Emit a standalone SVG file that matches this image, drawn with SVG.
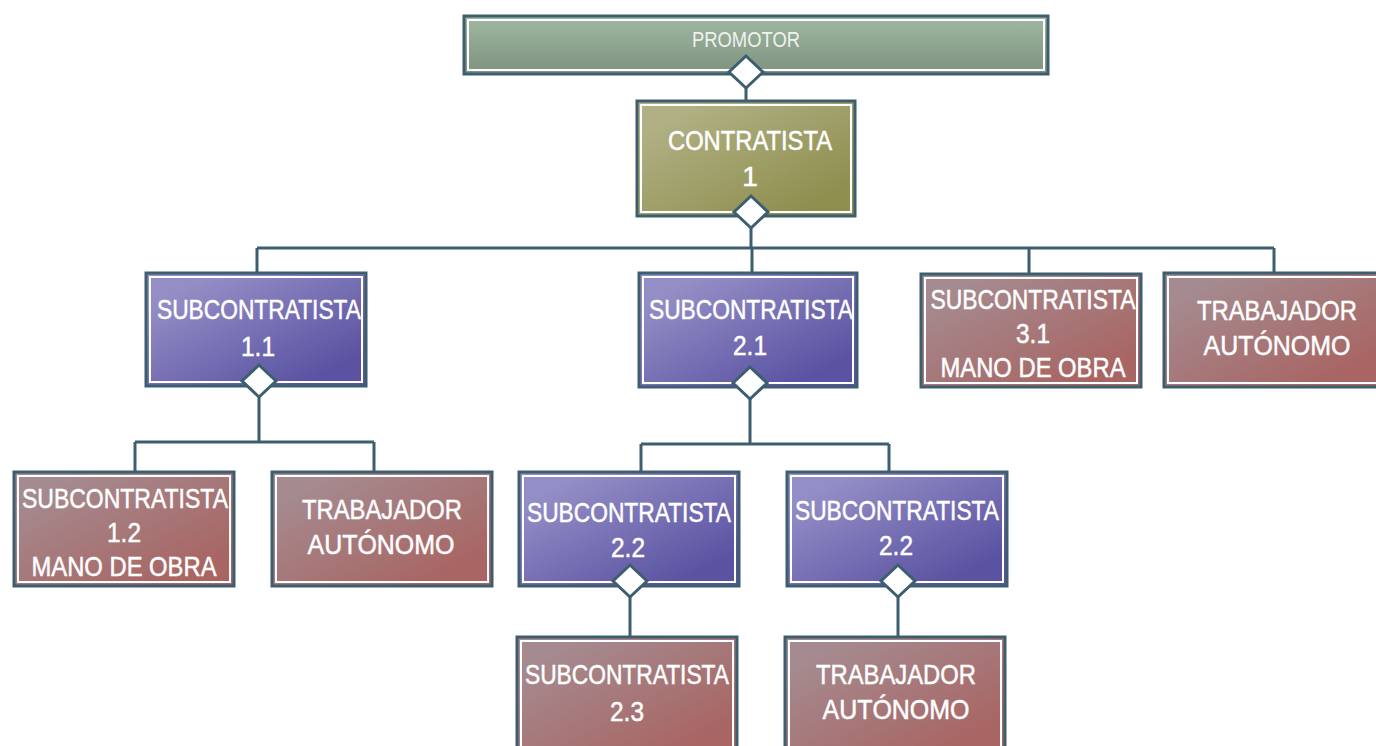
<svg xmlns="http://www.w3.org/2000/svg" width="1376" height="746" viewBox="0 0 1376 746">
<defs>
<linearGradient id="gBlue" x1="0" y1="0" x2="1" y2="1"><stop offset="0.15" stop-color="#948ec6"/><stop offset="0.85" stop-color="#5a53a2"/></linearGradient>
<linearGradient id="gRed" x1="0" y1="0" x2="1" y2="1"><stop offset="0.15" stop-color="#a58a8f"/><stop offset="0.85" stop-color="#a86563"/></linearGradient>
<linearGradient id="gOlive" x1="0" y1="0" x2="1" y2="1"><stop offset="0.15" stop-color="#b0b084"/><stop offset="0.85" stop-color="#8f8f50"/></linearGradient>
<linearGradient id="gGreen" x1="0" y1="0" x2="0" y2="1"><stop offset="0" stop-color="#a0b8a1"/><stop offset="1" stop-color="#7e927f"/></linearGradient>
</defs>
<style>
.box{stroke:#3d5e6e;stroke-width:3}
.inner{fill:none;stroke:#ffffff;stroke-width:2}
.t{font-family:"Liberation Sans",Arial,sans-serif;font-size:28px;fill:#ffffff;stroke:#ffffff;stroke-width:0.5;text-anchor:middle}
.tp{font-family:"Liberation Sans",Arial,sans-serif;font-size:22px;fill:#eef2ee;text-anchor:middle}
.ln{fill:none;stroke:#3d5e6e;stroke-width:3}
.dia{fill:#ffffff;stroke:#3d5e6e;stroke-width:3}
</style>
<rect width="1376" height="746" fill="#ffffff"/>

<g id="connectors">
<path class="ln" d="M746 88V100"/>
<path class="ln" d="M751 228V248M257 248H1274M257 248V272M752 248V272M1029 248V275M1274 248V272"/>
<path class="ln" d="M259 397V442M135 442H374M135 442V471M374 442V471"/>
<path class="ln" d="M750 399V444M641 444H889M641 444V471M889 444V471"/>
<path class="ln" d="M630 597V636"/>
<path class="ln" d="M898 597V636"/>
</g>

<g id="promotor">
<rect class="box" x="464" y="16" width="584" height="58" fill="url(#gGreen)"/>
<rect class="inner" x="468" y="20" width="576" height="50"/>
<text class="tp" x="746" y="47" textLength="108" lengthAdjust="spacingAndGlyphs">PROMOTOR</text>
</g>

<g id="contratista1">
<rect class="box" x="637" y="101" width="218" height="115" fill="url(#gOlive)"/>
<rect class="inner" x="641" y="105" width="210" height="107"/>
<text class="t" x="750" y="150" textLength="164" lengthAdjust="spacingAndGlyphs">CONTRATISTA</text>
<text class="t" x="750" y="186">1</text>
</g>

<g id="sub11">
<rect class="box" x="146" y="273" width="220" height="113" fill="url(#gBlue)"/>
<rect class="inner" x="150" y="277" width="212" height="105"/>
<text class="t" x="259" y="319" textLength="204" lengthAdjust="spacingAndGlyphs">SUBCONTRATISTA</text>
<text class="t" x="258" y="356" textLength="34" lengthAdjust="spacingAndGlyphs">1.1</text>
</g>

<g id="sub21">
<rect class="box" x="639" y="273" width="218" height="114" fill="url(#gBlue)"/>
<rect class="inner" x="643" y="277" width="210" height="106"/>
<text class="t" x="751" y="319" textLength="204" lengthAdjust="spacingAndGlyphs">SUBCONTRATISTA</text>
<text class="t" x="750" y="355" textLength="34" lengthAdjust="spacingAndGlyphs">2.1</text>
</g>

<g id="sub31">
<rect class="box" x="921" y="274" width="220" height="113" fill="url(#gRed)"/>
<rect class="inner" x="925" y="278" width="212" height="105"/>
<text class="t" x="1033" y="309" textLength="205" lengthAdjust="spacingAndGlyphs">SUBCONTRATISTA</text>
<text class="t" x="1033" y="343" textLength="34" lengthAdjust="spacingAndGlyphs">3.1</text>
<text class="t" x="1033" y="377" textLength="185" lengthAdjust="spacingAndGlyphs">MANO DE OBRA</text>
</g>

<g id="trabajador2">
<rect class="box" x="1164" y="273" width="220" height="114" fill="url(#gRed)"/>
<rect class="inner" x="1168" y="277" width="212" height="106"/>
<text class="t" x="1277" y="320" textLength="160" lengthAdjust="spacingAndGlyphs">TRABAJADOR</text>
<text class="t" x="1277" y="355" textLength="147" lengthAdjust="spacingAndGlyphs">AUTÓNOMO</text>
</g>

<g id="sub12">
<rect class="box" x="14" y="472" width="220" height="114" fill="url(#gRed)"/>
<rect class="inner" x="18" y="476" width="212" height="106"/>
<text class="t" x="125" y="508" textLength="206" lengthAdjust="spacingAndGlyphs">SUBCONTRATISTA</text>
<text class="t" x="124" y="542" textLength="34" lengthAdjust="spacingAndGlyphs">1.2</text>
<text class="t" x="124" y="576" textLength="185" lengthAdjust="spacingAndGlyphs">MANO DE OBRA</text>
</g>

<g id="trabajador1">
<rect class="box" x="272" y="472" width="220" height="114" fill="url(#gRed)"/>
<rect class="inner" x="276" y="476" width="212" height="106"/>
<text class="t" x="382" y="519" textLength="160" lengthAdjust="spacingAndGlyphs">TRABAJADOR</text>
<text class="t" x="381" y="554" textLength="147" lengthAdjust="spacingAndGlyphs">AUTÓNOMO</text>
</g>

<g id="sub22a">
<rect class="box" x="519" y="472" width="220" height="114" fill="url(#gBlue)"/>
<rect class="inner" x="523" y="476" width="212" height="106"/>
<text class="t" x="629" y="522" textLength="204" lengthAdjust="spacingAndGlyphs">SUBCONTRATISTA</text>
<text class="t" x="628" y="557" textLength="34" lengthAdjust="spacingAndGlyphs">2.2</text>
</g>

<g id="sub22b">
<rect class="box" x="787" y="472" width="220" height="114" fill="url(#gBlue)"/>
<rect class="inner" x="791" y="476" width="212" height="106"/>
<text class="t" x="897" y="520" textLength="204" lengthAdjust="spacingAndGlyphs">SUBCONTRATISTA</text>
<text class="t" x="896" y="555" textLength="34" lengthAdjust="spacingAndGlyphs">2.2</text>
</g>

<g id="sub23">
<rect class="box" x="517" y="637" width="220" height="120" fill="url(#gRed)"/>
<rect class="inner" x="521" y="641" width="212" height="112"/>
<text class="t" x="627" y="684" textLength="204" lengthAdjust="spacingAndGlyphs">SUBCONTRATISTA</text>
<text class="t" x="627" y="721" textLength="34" lengthAdjust="spacingAndGlyphs">2.3</text>
</g>

<g id="trabajador3">
<rect class="box" x="785" y="637" width="220" height="120" fill="url(#gRed)"/>
<rect class="inner" x="789" y="641" width="212" height="112"/>
<text class="t" x="896" y="684" textLength="160" lengthAdjust="spacingAndGlyphs">TRABAJADOR</text>
<text class="t" x="896" y="719" textLength="147" lengthAdjust="spacingAndGlyphs">AUTÓNOMO</text>
</g>

<g id="diamonds">
<path class="dia" d="M746 56L763 72L746 88L729 72Z"/>
<path class="dia" d="M751 196L768 212L751 228L734 212Z"/>
<path class="dia" d="M259 365L276 381L259 397L242 381Z"/>
<path class="dia" d="M750 367L767 383L750 399L733 383Z"/>
<path class="dia" d="M630 565L647 581L630 597L613 581Z"/>
<path class="dia" d="M898 565L915 581L898 597L881 581Z"/>
</g>
</svg>
